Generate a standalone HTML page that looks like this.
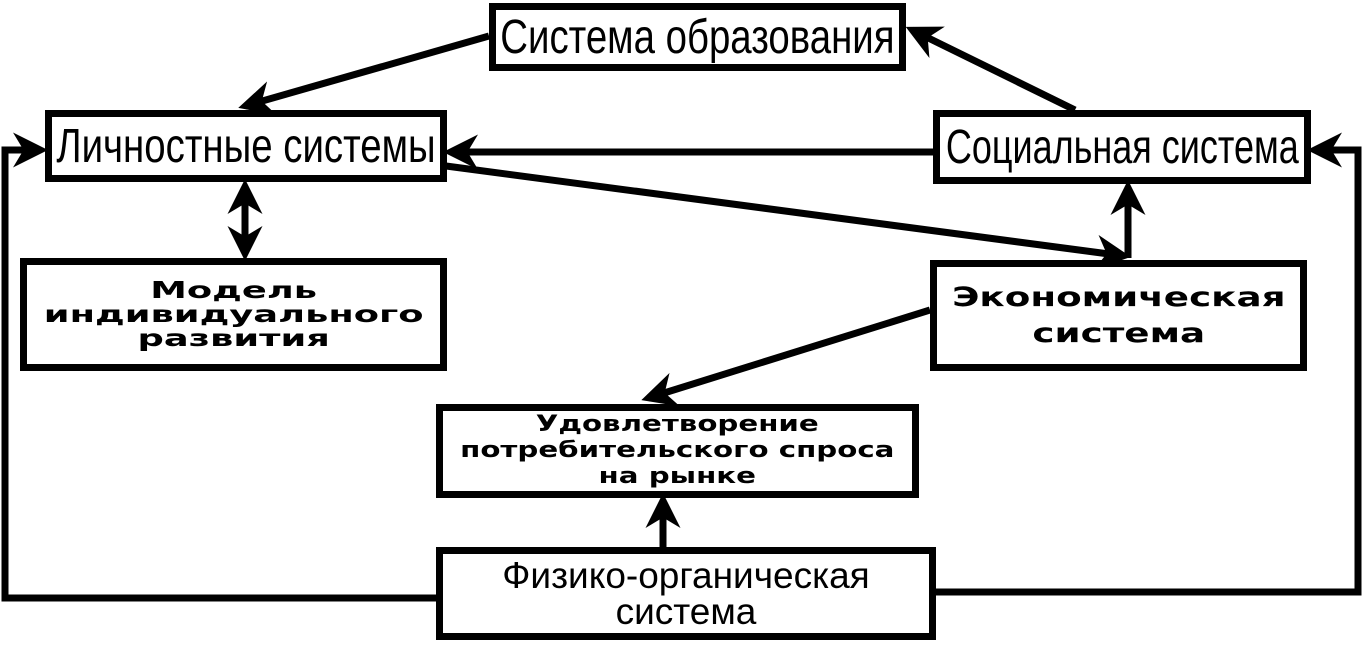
<!DOCTYPE html>
<html><head><meta charset="utf-8"><style>
html,body{margin:0;padding:0;background:#fff;width:1366px;height:646px;overflow:hidden}
.b{position:absolute;border:7px solid #000;box-sizing:border-box;display:flex;align-items:center;justify-content:center;text-align:center;background:#fff;color:#000}
.n{font-family:"Liberation Sans",sans-serif;font-size:48px;}
.n span{display:inline-block;transform:scaleX(0.8);white-space:nowrap}
.w span{display:inline-block;white-space:nowrap;font-family:"DejaVu Sans","Liberation Sans",sans-serif;font-weight:bold}
.p{font-family:"Liberation Sans",sans-serif;font-size:37px;line-height:36px}
</style></head><body>
<svg width="1366" height="646" style="position:absolute;left:0;top:0">
<defs><marker id="a" markerWidth="5" markerHeight="5" refX="4" refY="2.5" orient="auto" markerUnits="strokeWidth"><path d="M0,0 L5,2.5 L0,5 L1.5,2.5z" fill="#000"/></marker></defs>
<g stroke="#000" stroke-width="7" fill="none">
<line x1="489" y1="36" x2="245" y2="106" marker-end="url(#a)"/>
<line x1="1075" y1="110" x2="912" y2="30" marker-end="url(#a)"/>
<line x1="933" y1="152" x2="450" y2="152" marker-end="url(#a)"/>
<line x1="446" y1="166" x2="1124" y2="256" marker-end="url(#a)"/>
<line x1="1128" y1="258" x2="1128" y2="187" marker-end="url(#a)"/>
<line x1="245" y1="205" x2="245" y2="186" marker-end="url(#a)"/>
<line x1="245" y1="230" x2="245" y2="254" marker-end="url(#a)"/>
<line x1="245" y1="200" x2="245" y2="235"/>
<line x1="930" y1="310" x2="648" y2="398" marker-end="url(#a)"/>
<line x1="663" y1="547" x2="663" y2="500" marker-end="url(#a)"/>
<polyline points="436,598 5,598 5,150 41,150" marker-end="url(#a)"/>
<polyline points="935,592 1358,592 1358,150 1314,150" marker-end="url(#a)"/>
</g></svg>
<div class="b n" style="left:489px;top:3px;width:417px;height:68px"><span>Система образования</span></div>
<div class="b n" style="left:45px;top:110px;width:402px;height:72px"><span>Личностные системы</span></div>
<div class="b n" style="left:933px;top:110px;width:378px;height:74px"><span style="transform:scaleX(0.75)">Социальная система</span></div>
<div class="b w" style="left:20px;top:258px;width:427px;height:113px"><span style="font-size:23px;line-height:24px;transform:scaleX(1.6)">Модель<br>индивидуального<br>развития</span></div>
<div class="b w" style="left:930px;top:260px;width:377px;height:111px"><span style="font-size:27px;line-height:36px;transform:scaleX(1.38)">Экономическая<br>система</span></div>
<div class="b w" style="left:436px;top:404px;width:483px;height:94px"><span style="font-size:22px;line-height:26px;transform:scaleX(1.33)">Удовлетворение<br>потребительского спроса<br>на рынке</span></div>
<div class="b p" style="left:436px;top:547px;width:500px;height:93px">Физико-органическая<br>система</div>
</body></html>
